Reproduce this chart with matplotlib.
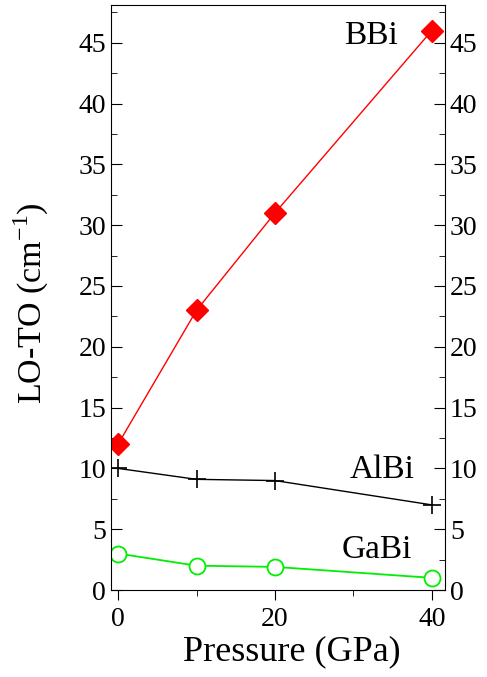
import matplotlib
matplotlib.use("Agg")
import matplotlib.pyplot as plt
from matplotlib.ticker import MultipleLocator

plt.rcParams['font.family'] = 'serif'
plt.rcParams['font.serif'] = ['Liberation Serif', 'DejaVu Serif']
plt.rcParams['mathtext.fontset'] = 'custom'
plt.rcParams['mathtext.rm'] = 'Liberation Serif'

# pressure points (GPa)
pressure = [0, 10, 20, 40]
# LO-TO splitting (cm^-1)
bbi = [12, 23, 31, 46]
albi = [10, 9.1, 9.0, 7.0]
gabi = [3, 2.0, 1.9, 1.0]

fig = plt.figure(figsize=(4.87, 6.77), dpi=100)
ax = fig.add_axes([0.228, 0.1285, 0.686, 0.864])

ax.plot(pressure, bbi, color='#ff0000', lw=1, marker='D', ms=11.5,
        mfc='#ff0000', mec='#ff0000')
ax.plot(pressure, albi, color='black', lw=1, marker='+', ms=13, mew=1.2)
ax.plot(pressure, gabi, color='#00ee00', lw=1.3, marker='o', ms=11.5,
        mfc='white', mec='#00ee00', mew=1.3)

ax.text(32.3, 45.6, 'BBi', fontsize=24, ha='center', va='center')
ax.text(33.7, 9.9, 'AlBi', fontsize=24, ha='center', va='center')
ax.text(33.0, 3.3, 'GaBi', fontsize=24, ha='center', va='center')

ax.set_xlim(-0.9, 41.7)
ax.set_ylim(0, 48.1)
ax.xaxis.set_major_locator(MultipleLocator(20))
ax.xaxis.set_minor_locator(MultipleLocator(10))
ax.yaxis.set_major_locator(MultipleLocator(5))
ax.yaxis.set_minor_locator(MultipleLocator(2.5))
ax.xaxis.set_major_formatter(lambda v, pos: '%d' % v)
ax.yaxis.set_major_formatter(lambda v, pos: '%d' % v)

ax.tick_params(axis='x', which='both', direction='out', top=False,
               labelsize=20, pad=5)
ax.tick_params(axis='x', which='major', length=7)
ax.tick_params(axis='x', which='minor', length=4)
ax.tick_params(axis='y', which='both', direction='in', left=True, right=True,
               labelleft=True, labelright=True, labelsize=20)
ax.tick_params(axis='y', which='major', length=8)
ax.tick_params(axis='y', which='minor', length=4)

ax.set_xlabel('Pressure (GPa)', fontsize=26, labelpad=6)
ax.xaxis.set_label_coords(0.54, -0.078)
ax.set_ylabel(r'LO-TO (cm$^{\mathregular{-1}}$)', fontsize=24.5)
ax.yaxis.set_label_coords(-0.18, 0.49)

fig.savefig('out.png', dpi=100)
